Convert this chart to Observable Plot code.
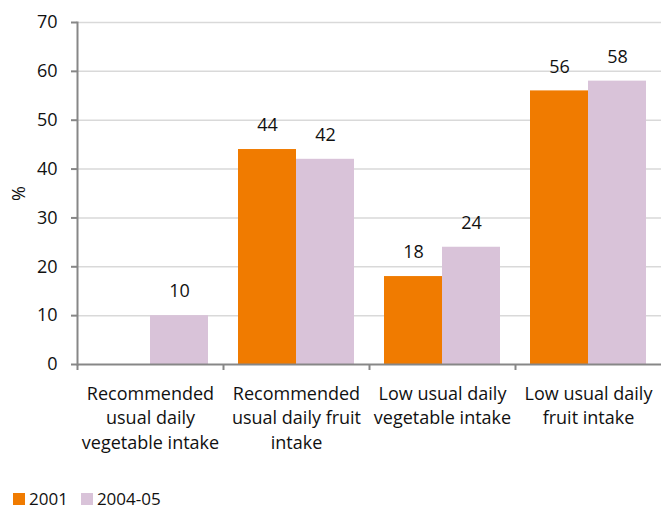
<!DOCTYPE html>
<html>
<head>
<meta charset="utf-8">
<script src="https://cdn.jsdelivr.net/npm/d3@7"></script>
<script src="https://cdn.jsdelivr.net/npm/@observablehq/plot@0.6"></script>
<style>
  html, body { margin: 0; padding: 0; background: #fff; }
  body { width: 661px; height: 511px; position: relative; font-family: "Open Sans", Lato, sans-serif; }
  #chart { position: absolute; left: 0; top: 0; }
  #legend { position: absolute; left: 13px; top: 488px; line-height: 22px; display: flex; align-items: center; font-size: 17px; color: #111; }
  #legend .item { display: flex; align-items: center; margin-right: 13px; }
  #legend .sw { width: 12px; height: 12px; display: inline-block; margin-right: 4px; }
</style>
</head>
<body>
<div id="chart"></div>
<div id="legend"></div>
<script>
const categories = [
  "Recommended\nusual daily\nvegetable intake",
  "Recommended\nusual daily fruit\nintake",
  "Low usual daily\nvegetable intake",
  "Low usual daily\nfruit intake"
];
const series = ["2001", "2004-05"];
const values2001 = [null, 44, 18, 56];
const values200405 = [10, 42, 24, 58];
const yTicks = [0, 10, 20, 30, 40, 50, 60, 70];
const colors = ["#F07B00", "#D9C3D9"];

const data = categories.flatMap((c, i) => [
  {category: c, series: series[0], value: values2001[i]},
  {category: c, series: series[1], value: values200405[i]}
]).filter(d => d.value != null);

const W = 661, H = 470, ML = 77, MR = 0, MT = 22, MB = 106;
const facetW = (W - ML - MR) / categories.length;
const axisColor = "#878787";
const fs = 18;
const font = "'Open Sans', Lato, sans-serif";

const chart = Plot.plot({
  width: W, height: H,
  marginLeft: ML, marginRight: MR, marginTop: MT, marginBottom: MB,
  style: {fontFamily: font, fontSize: fs + "px", color: "#111"},
  fx: {domain: categories, padding: 0, label: null, axis: null},
  x: {domain: series, paddingInner: 0, paddingOuter: 0.24, axis: null},
  y: {domain: [0, 70], axis: null},
  color: {domain: series, range: colors},
  marks: [
    Plot.ruleY(yTicks.filter(t => t > 0), {stroke: "#d9d9d9", strokeWidth: 1.5}),
    Plot.barY(data, {fx: "category", x: "series", y: "value", fill: "series"}),
    Plot.text(data, {fx: "category", x: "series", y: "value", text: d => String(d.value), dy: -24, lineAnchor: "middle", fontSize: fs, fill: "#111"}),
    Plot.ruleY([0], {stroke: axisColor, strokeWidth: 2}),
    Plot.frame({anchor: "left", facetAnchor: "left", stroke: axisColor, strokeWidth: 2}),
    Plot.axisY({ticks: yTicks, tickSize: 6, tickPadding: 14, stroke: axisColor, strokeWidth: 2, fontSize: fs, label: "%", labelAnchor: "center", labelArrow: "none", labelOffset: 65}),
    Plot.axisFx({anchor: "bottom", tickSize: 6, stroke: axisColor, strokeWidth: 2, tickFormat: () => "", label: null, dx: -facetW / 2}),
    Plot.axisFx({anchor: "bottom", tickSize: 0, tickPadding: 18, lineHeight: 1.36, fontSize: fs, label: null, textAnchor: "middle"})
  ]
});
document.getElementById("chart").appendChild(chart);

const legend = document.getElementById("legend");
series.forEach((s, i) => {
  const item = document.createElement("div");
  item.className = "item";
  const sw = document.createElement("span");
  sw.className = "sw";
  sw.style.background = colors[i];
  item.appendChild(sw);
  item.appendChild(document.createTextNode(s));
  legend.appendChild(item);
});
</script>
</body>
</html>
